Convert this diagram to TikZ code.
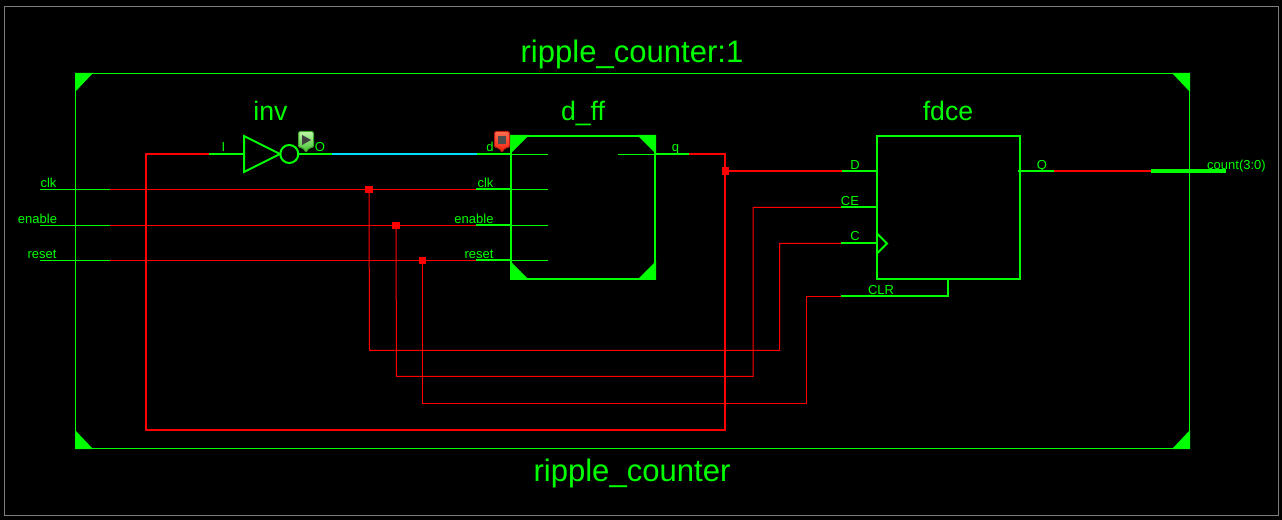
\documentclass[tikz,border=0pt]{standalone}
\usepackage{fontspec}
\setmainfont{Liberation Sans}
\usetikzlibrary{calc}
\definecolor{vgreen}{RGB}{0,255,0}
\definecolor{vred}{RGB}{255,0,0}
\definecolor{vcyan}{RGB}{0,220,255}
\definecolor{vgray}{RGB}{125,125,125}
\tikzset{
  x=0.75pt,y=-0.75pt,
  thick px/.style={line width=1.5pt},
  thin px/.style={line width=0.75pt},
  redbus/.style={draw=vred,thick px},
  redwire/.style={draw=vred,thin px},
  greenpin/.style={draw=vgreen,thick px},
  greenthin/.style={draw=vgreen,thin px},
  block/.style={draw=vgreen,thick px,fill=none,inner sep=0pt,minimum height=107.25pt},
  corner/.style={fill=vgreen,draw=none},
  title/.style={text=vgreen,anchor=base,inner sep=0pt,font=\fontsize{23.3}{25}\selectfont},
  cell/.style={text=vgreen,anchor=base,inner sep=0pt,font=\fontsize{20}{22}\selectfont},
  pinlabel/.style={text=vgreen,anchor=base,inner sep=0pt,font=\fontsize{9.75}{11}\selectfont},
  junction/.style={fill=vred,draw=none,inner sep=0pt,minimum size=5.6pt,rectangle},
}
\begin{document}
\begin{tikzpicture}
\useasboundingbox (0,0) rectangle (1282,520);
\fill[black] (0,0) rectangle (1282,520);
% frames
\node[draw=vgray,thin px,minimum width=955.5pt,minimum height=381.75pt,inner sep=0pt] (outer) at (641,261) {};
\node[greenthin,draw,minimum width=835.5pt,minimum height=281.25pt,inner sep=0pt] (top) at (632.5,261) {};
\fill[corner] (top.north west) -- ++(18,0) -- ++(-18,19) -- cycle;
\fill[corner] (top.north east) -- ++(-18,0) -- ++(18,19) -- cycle;
\fill[corner] (top.south west) -- ++(18,0) -- ++(-18,-19) -- cycle;
\fill[corner] (top.south east) -- ++(-18,0) -- ++(18,-19) -- cycle;
\node[title] (t1) at (632,62.7) {ripple\_counter:1};
\node[title] (t2) at (632,481) {ripple\_counter};
% blocks
\node[block,minimum width=108pt] (ff) at (583,207.5) {};
\fill[corner] (ff.north west) -- ++(19,0) -- ++(-19,19) -- cycle;
\fill[corner] (ff.north east) -- ++(-19,0) -- ++(19,19) -- cycle;
\fill[corner] (ff.south west) -- ++(19,0) -- ++(-19,-19) -- cycle;
\fill[corner] (ff.south east) -- ++(-19,0) -- ++(19,-19) -- cycle;
\node[block,minimum width=107.25pt] (fd) at (948.5,207.5) {};
\node[cell] (linv) at (270.5,121) {inv};
\node[cell] (lff) at (583,121) {d\_ff};
\node[cell] (lfd) at (948,121) {fdce};
% named points
\coordinate (inA) at (244,154);
\coordinate (busL) at (146,154);
\coordinate (iR) at (209,154);
\coordinate (oL) at (299,154);
\coordinate (oG) at (332,154);
\coordinate (dG) at (477,154);
\coordinate (dIn) at (548,154.5);
\coordinate (dB) at (511,154.5);
\coordinate (qIn) at (618,154.5);
\coordinate (qB) at (655,154.5);
\coordinate (qA) at (655,154);
\coordinate (qG) at (689,154);
\coordinate (busR) at (725,154);
\coordinate (busRB) at (725,430);
\coordinate (busLB) at (146,430);
\coordinate (DG) at (842,171);
\coordinate (DB) at (877,171);
\foreach \n/\y in {clk/189.5,en/225.5,rst/260.5} {
  \coordinate (\n P) at (40,\y);
  \coordinate (\n R) at (110,\y);
  \coordinate (\n G) at (476,\y);
  \coordinate (\n B) at (511,\y);
  \coordinate (\n I) at (548,\y);
}
\coordinate (ceG) at (841,207.5);
\coordinate (ceB) at (877,207.5);
\coordinate (cG) at (841,243.5);
\coordinate (cB) at (877,243.5);
\coordinate (clrG) at (841,296.5);
\coordinate (clrC) at (948,296.5);
\coordinate (clrB) at (948,278);
\coordinate (qOut) at (1018,171);
\coordinate (qOutG) at (1054,171);
\coordinate (portL) at (1151,171);
\coordinate (portR) at (1226,171);
% junctions
\node[junction] (jq) at (725.5,171) {};
\node[junction] (jclk) at (369,189.5) {};
\node[junction] (jen) at (396,225.5) {};
\node[junction] (jrst) at (422.5,260.5) {};
% red wiring
\draw[redbus] (iR) -- (busL) -- (busLB) -- (busRB) -- (busR) -- (qG);
\draw[redbus] (jq.center) -- (DG);
\draw[redwire] (clkR) -- (clkG);
\draw[redwire] (enR) -- (enG);
\draw[redwire] (rstR) -- (rstG);
\draw[redwire] (jclk.center) -- (369.5,350.5) -- (779.5,350.5) -- (779.5,243.5) -- (cG);
\draw[redwire] (jen.center) -- (396.5,376.5) -- (753,376.5) -- (753,207.5) -- (ceG);
\draw[redwire] (jrst.center) -- (422.5,403.5) -- (806.5,403.5) -- (806.5,296.5) -- (clrG);
\draw[redbus] (qOutG) -- (portL);
% green pins
\draw[greenpin] (iR) -- (inA);
\draw[greenpin] (oL) -- (oG);
\draw[draw=vcyan,thick px] (oG) -- (dG);
\draw[greenpin] (dG) -- (511,154);
\draw[greenthin] (dB) -- (dIn);
\draw[greenthin] (qIn) -- (qB);
\draw[greenpin] (qA) -- (qG);
\draw[greenpin] (DG) -- (DB);
\draw[greenpin] (ceG) -- (ceB);
\draw[greenpin] (cG) -- (cB);
\draw[greenpin] (clrG) -- (clrC) -- (clrB);
\draw[greenpin] (qOut) -- (qOutG);
\draw[draw=vgreen,line width=3pt] (portL) -- (portR);
\foreach \n in {clk,en,rst} {
  \draw[greenthin] (\n P) -- (\n R);
  \draw[greenpin] ($(\n G)+(0,-0.5)$) -- ($(\n B)+(0,-0.5)$);
  \draw[greenthin] (\n B) -- (\n I);
}
% inverter
\draw[greenpin,line join=miter] (244,136) -- (280,154) -- (244,172) -- cycle;
\node[draw=vgreen,thick px,circle,inner sep=0pt,minimum size=13.5pt,fill=none] (bub) at (289.3,154) {};
% clock wedge
\draw[greenpin] (877.5,234) -- (887,243.5) -- (877.5,253);
% pin labels
\node[pinlabel] (a1) at (48.5,188) {clk};
\node[pinlabel] (a2) at (37.5,224) {enable};
\node[pinlabel] (a3) at (42,259) {reset};
\node[pinlabel] (b1) at (223.5,152) {I};
\node[pinlabel] (b2) at (320,152) {O};
\node[pinlabel] (b3) at (490,152) {d};
\node[pinlabel] (b4) at (485.5,188) {clk};
\node[pinlabel] (b5) at (474,224) {enable};
\node[pinlabel] (b6) at (479,259) {reset};
\node[pinlabel] (b7) at (675.5,152) {q};
\node[pinlabel] (c1) at (855,170) {D};
\node[pinlabel] (c2) at (850,206) {CE};
\node[pinlabel] (c3) at (855,241) {C};
\node[pinlabel] (c4) at (881,295) {CLR};
\node[pinlabel] (c5) at (1042,170) {Q};
\node[pinlabel] (c6) at (1236.5,170) {count(3:0)};
% markers
\shade[draw={rgb,255:red,60;green,170;blue,40},thin px,rounded corners=1.5pt,top color={rgb,255:red,190;green,245;blue,170},bottom color={rgb,255:red,60;green,190;blue,40}]
  (298.5,131.5) -- (313.5,131.5) -- (313.5,147.5) -- (309,147.5) -- (306,152.5) -- (303,147.5) -- (298.5,147.5) -- cycle;
\fill[black!75] (302,135) -- (311,140) -- (302,145) -- cycle;
\shade[draw={rgb,255:red,190;green,30;blue,20},thin px,rounded corners=1.5pt,top color={rgb,255:red,255;green,110;blue,80},bottom color={rgb,255:red,240;green,30;blue,10}]
  (494.5,131.5) -- (509.5,131.5) -- (509.5,147.5) -- (505,147.5) -- (502,152.5) -- (499,147.5) -- (494.5,147.5) -- cycle;
\fill[black!70] (498,136) rectangle (506,144);
\end{tikzpicture}
\end{document}
